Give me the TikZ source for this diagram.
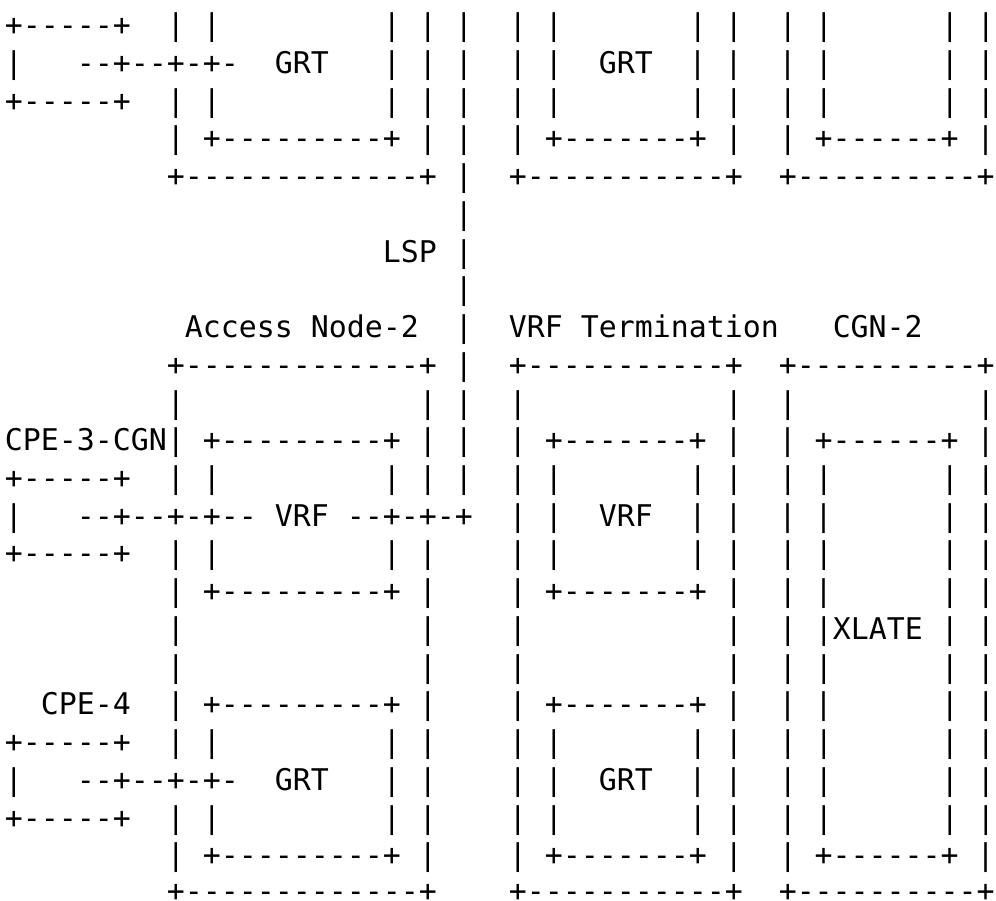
\documentclass[tikz,border=0pt]{standalone}
\usepackage{fontspec}
\setmonofont{DejaVu Sans Mono}
\newdimen\cw
\cw=9pt
\newcommand\sps[1]{\hspace*{#1\cw}}
\tikzset{asciirow/.style={anchor=base west, inner sep=0pt, outer sep=0pt,
  font=\ttfamily\fontsize{14.949pt}{18pt}\selectfont, text=black}}
\begin{document}
\begin{tikzpicture}
\fill[white] (0,0) rectangle (498pt,-450pt);
\useasboundingbox (0,0) rectangle (498pt,-450pt);
\node[asciirow] (r0) at (2.4pt,-17.80pt) {+-----+\sps2|\sps1|\sps9|\sps1|\sps1|\sps2|\sps1|\sps7|\sps1|\sps2|\sps1|\sps6|\sps1|};
\node[asciirow] (r1) at (2.4pt,-36.67pt) {|\sps3--+--+-+-\sps2GRT\sps3|\sps1|\sps1|\sps2|\sps1|\sps2GRT\sps2|\sps1|\sps2|\sps1|\sps6|\sps1|};
\node[asciirow] (r2) at (2.4pt,-55.54pt) {+-----+\sps2|\sps1|\sps9|\sps1|\sps1|\sps2|\sps1|\sps7|\sps1|\sps2|\sps1|\sps6|\sps1|};
\node[asciirow] (r3) at (2.4pt,-74.41pt) {\sps9|\sps1+---------+\sps1|\sps1|\sps2|\sps1+-------+\sps1|\sps2|\sps1+------+\sps1|};
\node[asciirow] (r4) at (2.4pt,-93.28pt) {\sps9+-------------+\sps1|\sps2+-----------+\sps2+----------+};
\node[asciirow] (r5) at (2.4pt,-112.15pt) {\sps{25}|};
\node[asciirow] (r6) at (2.4pt,-131.02pt) {\sps{21}LSP\sps1|};
\node[asciirow] (r7) at (2.4pt,-149.89pt) {\sps{25}|};
\node[asciirow] (r8) at (2.4pt,-168.76pt) {\sps{10}Access\sps1Node-2\sps2|\sps2VRF\sps1Termination\sps3CGN-2};
\node[asciirow] (r9) at (2.4pt,-187.63pt) {\sps9+-------------+\sps1|\sps2+-----------+\sps2+----------+};
\node[asciirow] (r10) at (2.4pt,-206.50pt) {\sps9|\sps{13}|\sps1|\sps2|\sps{11}|\sps2|\sps{10}|};
\node[asciirow] (r11) at (2.4pt,-225.37pt) {CPE-3-CGN|\sps1+---------+\sps1|\sps1|\sps2|\sps1+-------+\sps1|\sps2|\sps1+------+\sps1|};
\node[asciirow] (r12) at (2.4pt,-244.24pt) {+-----+\sps2|\sps1|\sps9|\sps1|\sps1|\sps2|\sps1|\sps7|\sps1|\sps2|\sps1|\sps6|\sps1|};
\node[asciirow] (r13) at (2.4pt,-263.11pt) {|\sps3--+--+-+--\sps1VRF\sps1--+-+-+\sps2|\sps1|\sps2VRF\sps2|\sps1|\sps2|\sps1|\sps6|\sps1|};
\node[asciirow] (r14) at (2.4pt,-281.98pt) {+-----+\sps2|\sps1|\sps9|\sps1|\sps4|\sps1|\sps7|\sps1|\sps2|\sps1|\sps6|\sps1|};
\node[asciirow] (r15) at (2.4pt,-300.85pt) {\sps9|\sps1+---------+\sps1|\sps4|\sps1+-------+\sps1|\sps2|\sps1|\sps6|\sps1|};
\node[asciirow] (r16) at (2.4pt,-319.72pt) {\sps9|\sps{13}|\sps4|\sps{11}|\sps2|\sps1|XLATE\sps1|\sps1|};
\node[asciirow] (r17) at (2.4pt,-338.59pt) {\sps9|\sps{13}|\sps4|\sps{11}|\sps2|\sps1|\sps6|\sps1|};
\node[asciirow] (r18) at (2.4pt,-357.46pt) {\sps2CPE-4\sps2|\sps1+---------+\sps1|\sps4|\sps1+-------+\sps1|\sps2|\sps1|\sps6|\sps1|};
\node[asciirow] (r19) at (2.4pt,-376.33pt) {+-----+\sps2|\sps1|\sps9|\sps1|\sps4|\sps1|\sps7|\sps1|\sps2|\sps1|\sps6|\sps1|};
\node[asciirow] (r20) at (2.4pt,-395.20pt) {|\sps3--+--+-+-\sps2GRT\sps3|\sps1|\sps4|\sps1|\sps2GRT\sps2|\sps1|\sps2|\sps1|\sps6|\sps1|};
\node[asciirow] (r21) at (2.4pt,-414.07pt) {+-----+\sps2|\sps1|\sps9|\sps1|\sps4|\sps1|\sps7|\sps1|\sps2|\sps1|\sps6|\sps1|};
\node[asciirow] (r22) at (2.4pt,-432.94pt) {\sps9|\sps1+---------+\sps1|\sps4|\sps1+-------+\sps1|\sps2|\sps1+------+\sps1|};
\node[asciirow] (r23) at (2.4pt,-450.9pt) {\sps9+-------------+\sps4+-----------+\sps2+----------+};
\end{tikzpicture}
\end{document}
